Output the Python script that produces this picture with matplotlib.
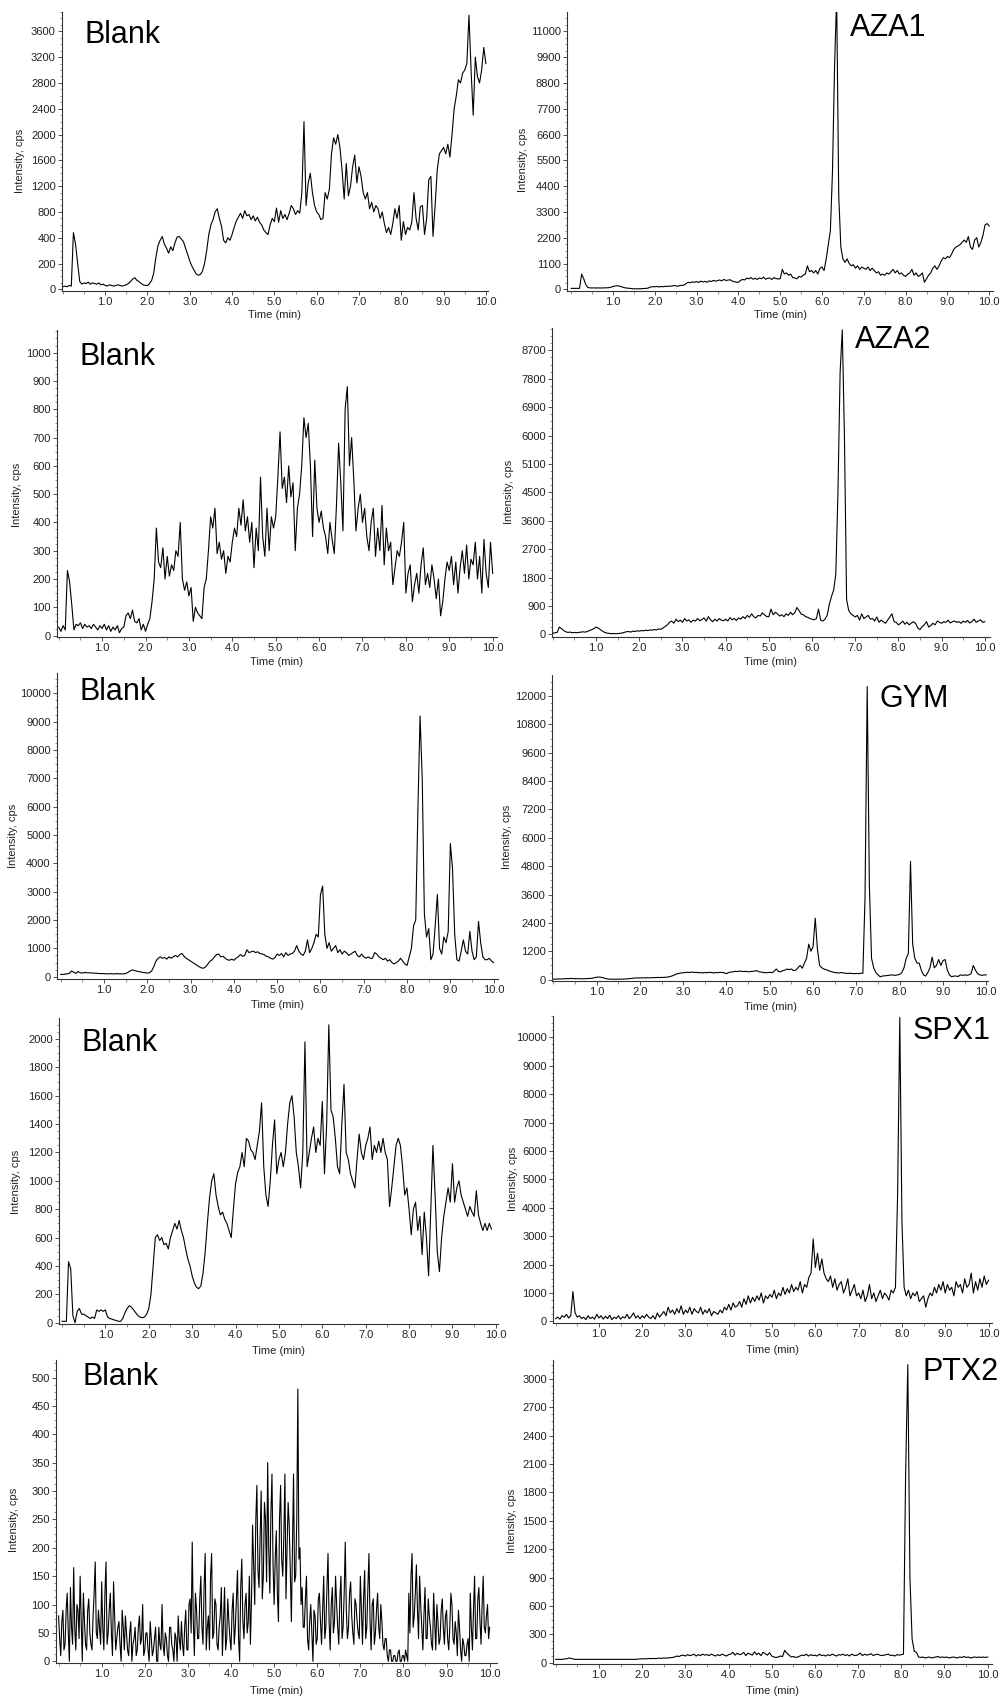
import numpy as np
import matplotlib
matplotlib.use("Agg")
import matplotlib.pyplot as plt
from matplotlib.ticker import FixedLocator, MultipleLocator, FuncFormatter

plt.rcParams['font.family'] = ['Liberation Sans', 'DejaVu Sans']

# sampling step of the traces (min)
step = 0.05

# ---- traces, one value every 0.05 min starting at 0.0 min ----
blank_aza1 = [
    20, 25, 20, 30, 25, 480, 350, 200, 60, 40, 50, 45, 55, 40, 50, 45, 40, 50, 35, 40,
    30, 25, 35, 30, 25, 30, 35, 30, 25, 30, 35, 45, 60, 80, 90, 70, 60, 45, 35, 30,
    30, 45, 70, 130, 250, 340, 380, 420, 350, 320, 280, 330, 300, 360, 410, 420, 390, 370, 320, 270,
    220, 180, 150, 120, 110, 115, 140, 200, 300, 450, 600, 680, 800, 850, 700, 580, 380, 360, 400, 380,
    450, 560, 660, 720, 780, 700, 820, 740, 760, 680, 740, 660, 720, 640, 600, 520, 480, 450, 600, 700,
    650, 860, 640, 820, 700, 760, 680, 780, 900, 850, 760, 820, 780, 1100, 2200, 900, 1250, 1400, 1100, 900,
    800, 760, 680, 700, 1100, 1000, 1150, 1700, 1950, 1850, 2000, 1800, 1450, 1000, 1550, 1050, 1200, 1500, 1680, 1250,
    1500, 1350, 1100, 1000, 1100, 850, 950, 800, 900, 850, 700, 800, 620, 480, 560, 450, 620, 850, 700, 900,
    380, 650, 450, 560, 520, 650, 1100, 700, 520, 880, 900, 450, 700, 1300, 1350, 420, 900, 1450, 1700, 1750,
    1800, 1700, 1850, 1650, 2000, 2400, 2600, 2850, 2800, 2950, 3000, 3100, 3850, 3000, 2300, 3200, 2900, 2800, 3000, 3350,
    3100]

aza1 = [
    40, 40, 40, 40, 40, 650, 450, 200, 80, 60, 60, 60, 55, 60, 55, 60, 60, 65, 70, 90,
    120, 140, 150, 140, 110, 80, 60, 50, 40, 30, 20, 20, 25, 20, 30, 35, 40, 60, 100, 110,
    110, 120, 100, 120, 110, 130, 120, 140, 130, 160, 150, 130, 160, 170, 180, 250, 300, 280, 320, 300,
    330, 290, 350, 310, 340, 300, 360, 330, 380, 350, 370, 400, 360, 420, 380, 390, 410, 350, 330, 300,
    300, 380, 420, 400, 480, 450, 500, 430, 470, 420, 480, 450, 520, 430, 470, 480, 420, 500, 460, 440,
    450, 850, 650, 700, 600, 650, 500, 480, 450, 550, 520, 600, 650, 1000, 750, 800, 700, 800, 650, 900,
    950, 800, 1300, 1900, 2500, 5000, 9500, 12500, 4000, 1800, 1300, 1150, 1300, 1100, 1000, 1050, 900, 1000, 850, 950,
    900, 850, 950, 800, 900, 800, 700, 750, 600, 650, 600, 700, 650, 750, 850, 700, 800, 650, 700, 600,
    550, 650, 700, 850, 600, 700, 550, 600, 700, 300, 450, 600, 700, 900, 1000, 850, 1000, 1200, 1350, 1300,
    1400, 1350, 1500, 1700, 1800, 1850, 1900, 2000, 2100, 2000, 2250, 1800, 1700, 2100, 2200, 1800, 2000, 2300, 2750, 2800,
    2700]

blank_aza2 = [
    30, 15, 35, 20, 230, 190, 110, 20, 40, 35, 45, 25, 40, 30, 35, 25, 40, 30, 20, 35,
    25, 40, 20, 35, 15, 30, 20, 35, 10, 25, 30, 70, 80, 60, 90, 50, 45, 60, 20, 40,
    15, 40, 60, 120, 200, 380, 260, 240, 310, 200, 280, 210, 250, 230, 300, 280, 400, 200, 160, 190,
    140, 170, 50, 100, 80, 70, 60, 170, 200, 300, 420, 380, 450, 290, 330, 270, 300, 220, 280, 260,
    330, 380, 350, 450, 390, 480, 370, 420, 330, 400, 240, 380, 300, 560, 350, 280, 450, 300, 420, 380,
    420, 560, 720, 520, 560, 470, 600, 490, 540, 300, 450, 500, 600, 770, 700, 750, 600, 350, 620, 450,
    400, 440, 380, 350, 290, 400, 340, 290, 460, 680, 540, 370, 800, 880, 600, 700, 550, 370, 450, 500,
    400, 450, 350, 300, 400, 450, 280, 380, 300, 460, 250, 380, 300, 330, 180, 240, 300, 280, 330, 400,
    150, 220, 250, 120, 180, 220, 150, 250, 310, 180, 220, 170, 250, 200, 130, 200, 70, 120, 200, 260,
    230, 280, 180, 260, 150, 240, 300, 220, 320, 200, 270, 250, 330, 200, 280, 150, 340, 220, 170, 330,
    220]

aza2 = [
    30, 50, 60, 230, 180, 120, 80, 60, 70, 50, 60, 50, 60, 70, 80, 70, 90, 120, 150, 180,
    230, 200, 150, 100, 60, 40, 30, 20, 25, 20, 25, 30, 40, 60, 80, 90, 70, 100, 90, 110,
    100, 120, 110, 130, 120, 140, 130, 150, 140, 170, 160, 200, 250, 300, 380, 420, 350, 480, 400, 450,
    380, 500, 420, 460, 380, 450, 420, 500, 430, 470, 520, 420, 560, 460, 400, 480, 420, 500, 450, 430,
    480, 420, 530, 460, 500, 440, 520, 480, 560, 500, 600, 540, 650, 560, 520, 600, 580, 680, 620, 560,
    560, 800, 620, 700, 650, 580, 620, 560, 650, 600, 700, 620, 680, 850, 750, 640, 620, 560, 540, 500,
    480, 460, 500, 800, 450, 420, 480, 600, 950, 1200, 1400, 1900, 4500, 8000, 9350, 6000, 1100, 750, 650, 600,
    550, 600, 450, 650, 500, 550, 600, 480, 500, 420, 550, 380, 450, 400, 350, 450, 550, 650, 400, 380,
    300, 350, 420, 320, 380, 300, 360, 400, 340, 200, 150, 250, 300, 400, 230, 280, 350, 300, 420, 380,
    350, 400, 380, 450, 360, 400, 420, 380, 400, 350, 420, 380, 440, 360, 400, 480, 380, 420, 460, 380,
    400]

blank_gym = [
    80, 80, 90, 100, 120, 200, 160, 120, 180, 140, 130, 150, 140, 140, 130, 130, 120, 120, 110, 110,
    110, 100, 100, 110, 100, 100, 110, 100, 100, 100, 110, 150, 200, 240, 220, 200, 180, 170, 150, 140,
    130, 140, 200, 350, 550, 650, 700, 650, 680, 620, 700, 650, 700, 750, 700, 780, 820, 720, 650, 600,
    550, 500, 450, 400, 350, 310, 300, 350, 450, 550, 600, 700, 780, 800, 700, 720, 650, 600, 580, 620,
    580, 650, 700, 780, 720, 750, 950, 850, 880, 900, 850, 880, 820, 800, 780, 720, 700, 650, 620, 680,
    800, 750, 820, 700, 850, 750, 800, 820, 900, 1100, 900, 800, 750, 900, 1300, 850, 1000, 1200, 1500, 1400,
    2900, 3200, 1500, 1000, 1200, 900, 1000, 1100, 850, 950, 800, 900, 850, 750, 800, 850, 900, 750, 700, 800,
    700, 650, 700, 650, 650, 850, 800, 700, 650, 600, 650, 550, 600, 500, 450, 500, 550, 650, 550, 450,
    400, 700, 1000, 1800, 2000, 5900, 9200, 7000, 2200, 1400, 1700, 600, 800, 1800, 2900, 1000, 800, 1400, 1200, 1600,
    4700, 3800, 1500, 600, 550, 900, 1300, 900, 800, 1600, 900, 600, 700, 1950, 1200, 700, 600, 600, 650, 550,
    500]

gym = [
    20, 20, 25, 30, 30, 35, 40, 40, 50, 45, 40, 40, 40, 35, 35, 40, 45, 50, 60, 80,
    100, 110, 100, 80, 50, 30, 20, 15, 15, 15, 20, 20, 20, 25, 30, 40, 50, 60, 70, 70,
    70, 75, 70, 80, 75, 80, 80, 85, 90, 90, 90, 95, 100, 110, 130, 160, 200, 240, 260, 280,
    290, 300, 310, 300, 320, 300, 310, 290, 300, 280, 300, 290, 310, 300, 280, 300, 290, 310, 300, 290,
    250, 300, 320, 330, 350, 340, 360, 350, 340, 350, 330, 340, 350, 360, 380, 330, 320, 300, 290, 300,
    310, 290, 350, 450, 350, 330, 380, 400, 450, 420, 450, 380, 400, 500, 600, 480, 700, 900, 1500, 1200,
    1400, 2600, 1300, 600, 500, 450, 420, 380, 350, 320, 300, 290, 280, 300, 280, 270, 260, 270, 260, 250,
    260, 250, 270, 270, 3500, 12400, 4000, 900, 500, 300, 200, 120, 150, 160, 170, 180, 200, 190, 180, 200,
    220, 300, 500, 900, 1100, 5000, 1500, 900, 700, 700, 400, 200, 150, 300, 500, 950, 500, 600, 850, 600,
    800, 850, 400, 200, 120, 150, 150, 130, 200, 180, 200, 180, 200, 250, 600, 400, 250, 200, 180, 200,
    200]

blank_spx1 = [
    10, 10, 10, 430, 380, 50, 0, 80, 100, 60, 60, 50, 40, 30, 40, 30, 90, 80, 90, 80,
    90, 40, 30, 25, 20, 15, 10, 10, 30, 70, 100, 120, 110, 90, 70, 50, 40, 35, 40, 60,
    100, 200, 400, 600, 620, 580, 600, 550, 560, 520, 600, 650, 700, 660, 720, 650, 600, 520, 450, 400,
    330, 280, 250, 240, 260, 350, 500, 700, 880, 1000, 1050, 900, 820, 760, 780, 730, 700, 650, 600, 800,
    980, 1060, 1100, 1200, 1100, 1300, 1280, 1220, 1200, 1150, 1250, 1350, 1550, 1100, 900, 820, 1000, 1250, 1430, 1050,
    1150, 1200, 1100, 1200, 1400, 1550, 1600, 1450, 1200, 1100, 950, 1200, 1980, 1100, 1200, 1300, 1380, 1200, 1300, 1250,
    1560, 1050, 1400, 2100, 1500, 1450, 1300, 1100, 1050, 1400, 1680, 1200, 1150, 1050, 1000, 950, 1150, 1330, 1200, 1150,
    1250, 1300, 1380, 1150, 1250, 1200, 1280, 1200, 1300, 1200, 1150, 820, 950, 1100, 1250, 1300, 1250, 1100, 900, 950,
    800, 620, 800, 850, 650, 750, 480, 780, 600, 330, 800, 1250, 900, 500, 360, 600, 750, 850, 950, 850,
    1120, 850, 950, 1000, 900, 850, 800, 750, 820, 780, 750, 930, 760, 700, 650, 700, 650, 700, 660]

spx1 = [
    100, 150, 80, 200, 150, 250, 120, 200, 1050, 300, 150, 200, 100, 150, 60, 200, 100, 150, 80, 250,
    120, 200, 80, 180, 100, 220, 60, 150, 100, 200, 80, 160, 120, 250, 100, 180, 300, 120, 200, 90,
    200, 120, 250, 150, 100, 200, 80, 300, 150, 250, 350, 200, 500, 300, 400, 250, 450, 300, 550, 250,
    400, 300, 500, 250, 450, 350, 300, 500, 250, 400, 300, 450, 200, 350, 300, 250, 400, 300, 500, 400,
    600, 400, 650, 500, 550, 700, 500, 800, 600, 900, 650, 850, 700, 900, 750, 1000, 650, 900, 800, 950,
    850, 1100, 800, 1000, 900, 1200, 950, 1150, 1000, 1300, 1050, 1200, 1100, 1400, 1000, 1300, 1200, 1550, 1700, 2900,
    1900, 2400, 1800, 2200, 1700, 1500, 1400, 1600, 1200, 1500, 1100, 1300, 1400, 1000, 1200, 1500, 900, 1100, 1300, 900,
    1000, 800, 1100, 700, 900, 1300, 800, 1000, 700, 900, 1100, 800, 1000, 900, 750, 1100, 1000, 1200, 4500, 10700,
    3500, 1200, 900, 1100, 800, 1000, 900, 1050, 700, 800, 900, 500, 800, 1000, 900, 1200, 1000, 1300, 1100, 1400,
    1000, 1300, 1100, 1200, 900, 1400, 1200, 1300, 1000, 1500, 1200, 1300, 1700, 1000, 1400, 1100, 1500, 1200, 1600, 1300,
    1450]

blank_ptx2 = [
    80, 10, 90, 30, 120, 0, 60, 165, 20, 90, 150, 0, 70, 20, 110, 30, 80, 175, 40, 60,
    140, 20, 175, 50, 120, 10, 80, 40, 70, 0, 60, 80, 20, 50, 0, 40, 10, 60, 30, 100,
    20, 50, 0, 40, 20, 60, 0, 30, 100, 10, 40, 0, 60, 20, 50, 0, 40, 70, 10, 90,
    20, 110, 210, 10, 90, 40, 150, 30, 190, 60, 20, 190, 50, 100, 20, 80, 10, 130, 40, 70,
    20, 120, 60, 160, 0, 180, 40, 120, 70, 30, 240, 100, 310, 130, 300, 150, 250, 350, 120, 330,
    100, 230, 70, 310, 150, 330, 200, 240, 70, 330, 150, 480, 200, 130, 60, 150, 20, 100, 0, 80,
    40, 120, 30, 150, 60, 190, 20, 130, 70, 100, 30, 150, 60, 210, 40, 120, 80, 30, 100, 50,
    150, 30, 160, 60, 190, 20, 110, 50, 120, 40, 70, 20, 40, 0, 20, 0, 10, 0, 20, 0,
    10, 20, 0, 50, 190, 80, 170, 40, 100, 20, 130, 40, 80, 30, 120, 20, 70, 40, 110, 30,
    90, 20, 120, 40, 70, 10, 60, 0, 30, 10, 40, 120, 20, 150, 40, 130, 30, 150, 50, 100,
    60]

# the same blank read half a step later (0.025, 0.075, ... min): the noise is dense
blank_ptx2_mid = [
    40, 70, 20, 90, 50, 130, 30, 60, 100, 40, 70, 120, 30, 90, 50, 20, 120, 50, 90, 30,
    60, 120, 30, 90, 50, 140, 20, 60, 30, 90, 20, 50, 10, 70, 30, 60, 20, 80, 40, 10,
    50, 20, 70, 10, 40, 0, 60, 20, 30, 50, 10, 60, 30, 0, 40, 80, 20, 30, 60, 20,
    100, 50, 70, 120, 40, 110, 60, 130, 20, 80, 150, 40, 110, 30, 60, 130, 70, 20, 110, 40,
    90, 30, 110, 40, 130, 70, 100, 50, 150, 110, 170, 250, 160, 220, 110, 280, 140, 200, 260, 170,
    180, 120, 250, 180, 220, 110, 280, 160, 200, 140, 250, 180, 100, 60, 110, 40, 70, 50, 90, 30,
    110, 70, 90, 40, 130, 70, 100, 50, 150, 60, 110, 40, 120, 90, 60, 140, 50, 110, 70, 40,
    90, 110, 40, 130, 70, 100, 30, 90, 60, 100, 30, 40, 10, 20, 0, 10, 0, 15, 0, 10,
    0, 10, 120, 150, 60, 120, 90, 150, 60, 80, 40, 110, 60, 20, 70, 100, 30, 90, 60, 80,
    40, 60, 100, 30, 50, 90, 20, 40, 10, 30, 0, 60, 90, 40, 110, 70, 100, 60, 80, 40]

ptx2 = [
    35, 35, 35, 35, 40, 40, 50, 45, 40, 35, 35, 35, 35, 35, 35, 35, 35, 35, 35, 35,
    35, 35, 35, 35, 35, 35, 35, 35, 35, 35, 35, 35, 35, 35, 35, 35, 35, 35, 38, 40,
    40, 42, 40, 45, 42, 45, 43, 45, 48, 45, 50, 48, 50, 52, 55, 60, 70, 65, 75, 80,
    70, 85, 75, 80, 90, 70, 85, 75, 90, 80, 85, 75, 90, 80, 70, 85, 75, 90, 80, 70,
    85, 90, 110, 80, 100, 85, 90, 110, 75, 100, 90, 80, 115, 85, 100, 75, 110, 95, 80, 105,
    70, 60, 55, 60, 70, 65, 130, 100, 80, 60, 65, 55, 60, 70, 80, 75, 90, 70, 85, 75,
    80, 70, 90, 75, 80, 70, 85, 75, 90, 80, 70, 85, 80, 90, 75, 85, 70, 90, 80, 75,
    85, 100, 75, 90, 80, 85, 95, 75, 85, 90, 80, 75, 80, 85, 90, 75, 80, 70, 85, 80,
    85, 90, 2000, 3150, 900, 250, 120, 110, 60, 55, 60, 50, 55, 60, 50, 55, 60, 65, 55, 60,
    55, 60, 50, 55, 60, 55, 50, 60, 55, 65, 55, 60, 50, 55, 60, 55, 60, 55, 60, 55,
    60]

# y tick labels as printed on each panel
ticks_blank_aza1 = [0, 200, 400, 800, 1200, 1600, 2000, 2400, 2800, 3200, 3600]
ticks_aza1 = [0, 1100, 2200, 3300, 4400, 5500, 6600, 7700, 8800, 9900, 11000]
ticks_blank_aza2 = [0, 100, 200, 300, 400, 500, 600, 700, 800, 900, 1000]
ticks_aza2 = [0, 900, 1800, 2700, 3600, 4500, 5100, 6000, 6900, 7800, 8700]
ticks_blank_gym = [0, 1000, 2000, 3000, 4000, 5000, 6000, 7000, 8000, 9000, 10000]
ticks_gym = [0, 1200, 2400, 3600, 4800, 6000, 7200, 8400, 9600, 10800, 12000]
ticks_blank_spx1 = [0, 200, 400, 600, 800, 1000, 1200, 1400, 1600, 1800, 2000]
ticks_spx1 = [0, 1000, 2000, 3000, 4000, 5000, 6000, 7000, 8000, 9000, 10000]
ticks_blank_ptx2 = [0, 50, 100, 150, 200, 250, 300, 350, 400, 450, 500]
ticks_ptx2 = [0, 300, 600, 900, 1200, 1500, 1800, 2100, 2400, 2700, 3000]


def trace_xy(values, mid=None):
    x = np.arange(len(values)) * step
    y = np.array(values, dtype=float)
    if mid is not None:
        xm = np.arange(len(mid)) * step + step / 2
        x = np.concatenate([x, xm])
        y = np.concatenate([y, np.array(mid, dtype=float)])
        order = np.argsort(x)
        x, y = x[order], y[order]
    return x, y


W, H = 1003, 1700
fig = plt.figure(figsize=(W / 100, H / 100), dpi=100)

# name, (x, y), ticks, box px (left, top, right, bottom), xlim, ylim, label pos px, ylabel pos px, xlabel y px
panels = [
    ("Blank", trace_xy(blank_aza1), ticks_blank_aza1, (62, 12, 488, 291), (-0.02, 10.05), (-13, 3900), (85, 35), (20, 161), 315),
    ("AZA1", trace_xy(aza1), ticks_aza1, (567, 12, 993, 291), (-0.1, 10.09), (-72, 11823), (850, 28), (523, 160), 315),
    ("Blank", trace_xy(blank_aza2), ticks_blank_aza2, (57, 330, 497, 637), (-0.04, 10.1), (-5, 1080), (80, 357), (17, 495), 662),
    ("AZA2", trace_xy(aza2), ticks_aza2, (552, 328, 990, 637), (-0.02, 10.12), (-85, 9410), (855, 340), (509, 492), 662),
    ("Blank", trace_xy(blank_gym), ticks_blank_gym, (57, 673, 498, 979), (-0.085, 10.1), (-81, 10717), (80, 692), (13, 836), 1005),
    ("GYM", trace_xy(gym), ticks_gym, (552, 675, 988, 981), (-0.03, 10.04), (-59, 12890), (880, 699), (507, 837), 1007),
    ("Blank", trace_xy(blank_spx1), ticks_blank_spx1, (59, 1018, 498, 1324), (-0.07, 10.05), (-9, 2148), (82, 1043), (16, 1182), 1351),
    ("SPX1", trace_xy(spx1), ticks_spx1, (553, 1016, 992, 1323), (-0.06, 10.08), (-56, 10750), (913, 1031), (513, 1179), 1350),
    ("Blank", trace_xy(blank_ptx2, blank_ptx2_mid), ticks_blank_ptx2, (56, 1360, 497, 1663), (-0.06, 10.17), (-3, 531), (83, 1377), (14, 1520), 1691),
    ("PTX2", trace_xy(ptx2), ticks_ptx2, (553, 1360, 992, 1664), (-0.065, 10.1), (-14, 3200), (923, 1372), (512, 1521), 1691),
]

# axes whose printed labels are not evenly spaced in value: map label -> tick slot
slot_maps = {
    0: ([-2000, 0, 400, 6000], [-10, 0, 2, 16]),
    3: ([-9000, 0, 4500, 5100, 20100], [-10, 0, 5, 6, 22.667]),
}

grey = "#333333"
for k, (name, (x, y), yt, box, xlim, ylim, lab, ylab, xlab_y) in enumerate(panels):
    l, t, r, b = box
    ax = fig.add_axes([l / W, 1 - b / H, (r - l) / W, (b - t) / H])
    if k in slot_maps:
        vals, idx = slot_maps[k]
        ax.set_yscale('function', functions=(lambda v, a=vals, c=idx: np.interp(v, a, c),
                                             lambda s, a=vals, c=idx: np.interp(s, c, a)))
        minors = np.interp(np.arange(0, 11, 0.25), idx, vals)
        ax.yaxis.set_minor_locator(FixedLocator(minors))
    else:
        ax.yaxis.set_minor_locator(MultipleLocator((yt[1] - yt[0]) / 4))
    ax.plot(x, y, color="black", lw=0.8)
    ax.set_xlim(*xlim)
    ax.set_ylim(*ylim)
    ax.yaxis.set_major_locator(FixedLocator(yt))
    ax.yaxis.set_major_formatter(FuncFormatter(lambda v, p: f"{v:.0f}"))
    ax.xaxis.set_major_locator(FixedLocator(np.arange(1, 11)))
    ax.xaxis.set_minor_locator(MultipleLocator(0.5))
    ax.xaxis.set_major_formatter(FuncFormatter(lambda v, p: f"{v:.1f}"))
    for side in ("top", "right"):
        ax.spines[side].set_visible(False)
    for side in ("left", "bottom"):
        ax.spines[side].set_color(grey)
        ax.spines[side].set_linewidth(0.8)
    ax.tick_params(which="major", length=3, width=0.6, color=grey, labelsize=8,
                   labelcolor="#222222", pad=1.5)
    ax.tick_params(which="minor", length=1.8, width=0.5, color="#666666")
    ax.patch.set_alpha(0)

    fig.text(lab[0] / W, 1 - lab[1] / H, name, fontsize=22, ha="left", va="center")
    fig.text(ylab[0] / W, 1 - ylab[1] / H, "Intensity, cps", fontsize=8,
             rotation=90, ha="center", va="center", color="#222222")
    fig.text((l + r) / 2 / W, 1 - xlab_y / H, "Time (min)", fontsize=8,
             ha="center", va="center", color="#222222")

fig.savefig("out.png", dpi=100, facecolor="white")
